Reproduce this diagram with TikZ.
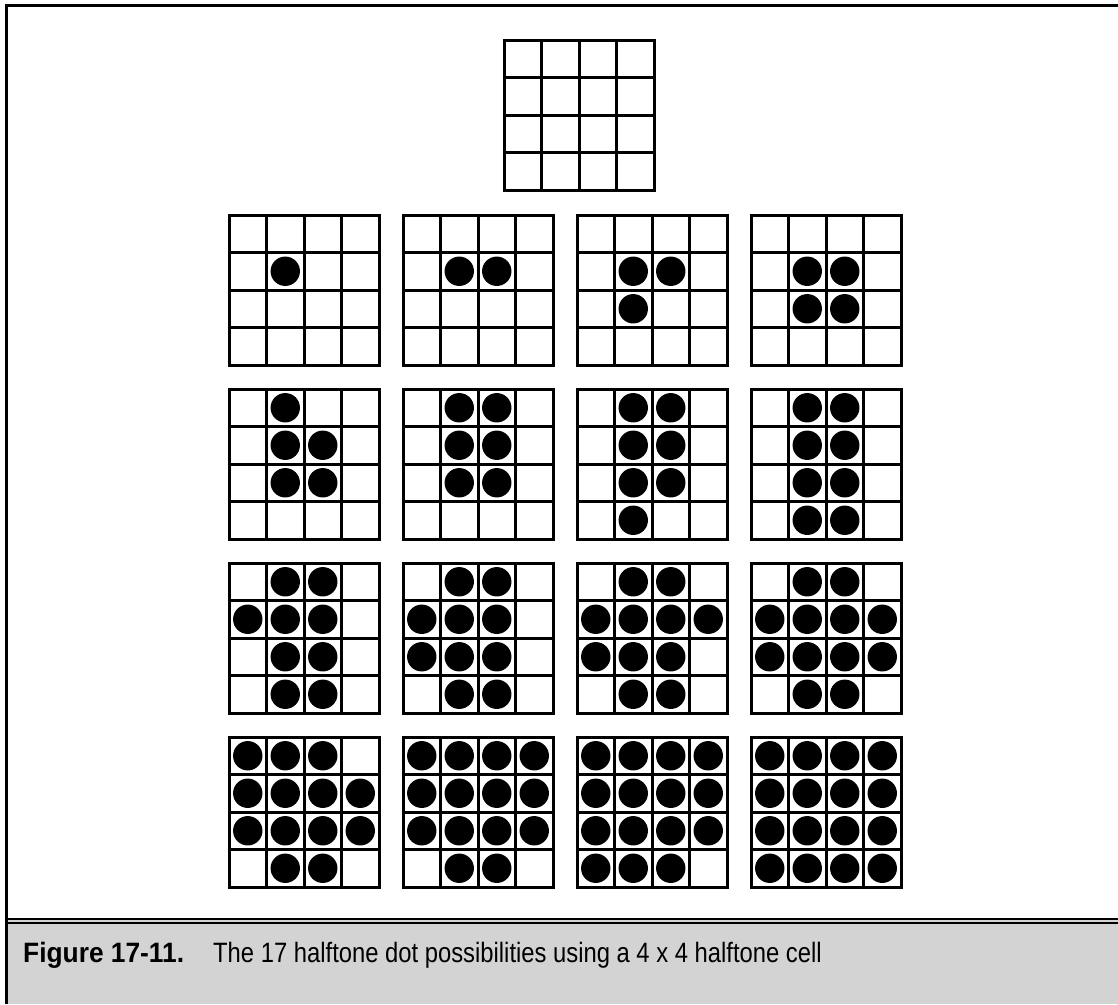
\documentclass[tikz,border=0pt]{standalone}
\usepackage{fontspec}
\setmainfont{Liberation Sans}[FakeStretch=0.85]
\newfontfamily\capboldfont{Liberation Sans}[FakeStretch=0.94]
\definecolor{capgray}{RGB}{211,211,211}
\tikzset{
  gl/.style={line width=3pt, line cap=rect, black},
  dotfill/.style={fill=black},
  frameline/.style={line width=3pt, black},
}
\newcommand{\htgrid}[2]{%
  \foreach \i in {0,...,4} {
    \draw[gl] ({#1+37.5*\i},#2) -- ({#1+37.5*\i},{#2+150});
    \draw[gl] (#1,{#2+37.5*\i}) -- ({#1+150},{#2+37.5*\i});
  }%
}
\newcommand{\htdots}[3]{%
  \foreach \r/\c in {#3} {
    \fill[dotfill] ({#1+37.5*\c+18.75},{#2+37.5*\r+18.75}) circle[radius=14.7pt];
  }%
}
\begin{document}
\begin{tikzpicture}[x=1pt,y=-1pt]
\useasboundingbox (0,0) rectangle (1118,1004);
% caption area
\fill[capgray] (8,918) rectangle (1118,1004);
\draw[line width=2pt] (8,919) -- (1118,919);
\draw[line width=2pt] (8,923) -- (1118,923);
% frame
\draw[frameline] (6.5,1004) -- (6.5,5.5) -- (1118,5.5);
% top empty grid
\htgrid{504}{40}
% row 1
\htgrid{229}{215}\htdots{229}{215}{1/1}
\htgrid{403}{215}\htdots{403}{215}{1/1,1/2}
\htgrid{577}{215}\htdots{577}{215}{1/1,1/2,2/1}
\htgrid{751}{215}\htdots{751}{215}{1/1,1/2,2/1,2/2}
% row 2
\htgrid{229}{389}\htdots{229}{389}{0/1,1/1,1/2,2/1,2/2}
\htgrid{403}{389}\htdots{403}{389}{0/1,0/2,1/1,1/2,2/1,2/2}
\htgrid{577}{389}\htdots{577}{389}{0/1,0/2,1/1,1/2,2/1,2/2,3/1}
\htgrid{751}{389}\htdots{751}{389}{0/1,0/2,1/1,1/2,2/1,2/2,3/1,3/2}
% row 3
\htgrid{229}{563}\htdots{229}{563}{0/1,0/2,1/0,1/1,1/2,2/1,2/2,3/1,3/2}
\htgrid{403}{563}\htdots{403}{563}{0/1,0/2,1/0,1/1,1/2,2/0,2/1,2/2,3/1,3/2}
\htgrid{577}{563}\htdots{577}{563}{0/1,0/2,1/0,1/1,1/2,1/3,2/0,2/1,2/2,3/1,3/2}
\htgrid{751}{563}\htdots{751}{563}{0/1,0/2,1/0,1/1,1/2,1/3,2/0,2/1,2/2,2/3,3/1,3/2}
% row 4
\htgrid{229}{737}\htdots{229}{737}{0/0,0/1,0/2,1/0,1/1,1/2,1/3,2/0,2/1,2/2,2/3,3/1,3/2}
\htgrid{403}{737}\htdots{403}{737}{0/0,0/1,0/2,0/3,1/0,1/1,1/2,1/3,2/0,2/1,2/2,2/3,3/1,3/2}
\htgrid{577}{737}\htdots{577}{737}{0/0,0/1,0/2,0/3,1/0,1/1,1/2,1/3,2/0,2/1,2/2,2/3,3/0,3/1,3/2}
\htgrid{751}{737}\htdots{751}{737}{0/0,0/1,0/2,0/3,1/0,1/1,1/2,1/3,2/0,2/1,2/2,2/3,3/0,3/1,3/2,3/3}
% caption
\node[anchor=base west, inner sep=0pt, font=\fontsize{28}{32}\selectfont\capboldfont\bfseries] (figlabel) at (23,962) {Figure 17-11.};
\node[anchor=base west, inner sep=0pt, font=\fontsize{28}{32}\selectfont] (figtext) at (213,962) {The 17 halftone dot possibilities using a 4 x 4 halftone cell};
\end{tikzpicture}
\end{document}
